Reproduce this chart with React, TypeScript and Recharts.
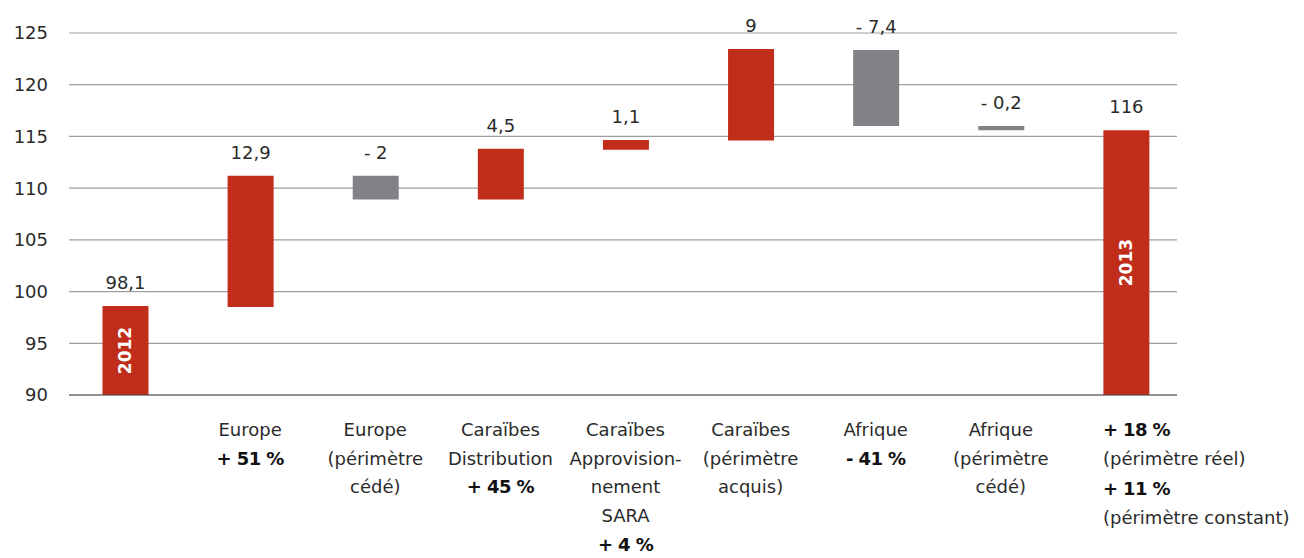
import { Bar, BarChart, CartesianGrid, Cell, LabelList, XAxis, YAxis } from "recharts";

const RED = "#c02d1b";
const GREY = "#818285";
const TEXT = "#2b2b2b";
const FONT = "'DejaVu Sans', sans-serif";

// one entry per bar
const categories = [
  "2012",
  "Europe",
  "Europe cédé",
  "Caraïbes Distribution",
  "Caraïbes SARA",
  "Caraïbes acquis",
  "Afrique",
  "Afrique cédé",
  "2013",
];
const barLow = [90, 98.5, 108.9, 108.9, 113.7, 114.6, 116.0, 115.6, 90];
const barHigh = [98.6, 111.2, 111.2, 113.8, 114.65, 123.45, 123.35, 116.0, 115.6];
const valueLabels = ["98,1", "12,9", "- 2", "4,5", "1,1", "9", "- 7,4", "- 0,2", "116"];
const barKinds = ["total", "up", "down", "up", "up", "up", "down", "down", "total"];
const yearLabels = ["2012", "", "", "", "", "", "", "", "2013"];
const yTicks = [90, 95, 100, 105, 110, 115, 120, 125];

// axis text under each bar: [text, bold]
const categoryLines: [string, boolean][][] = [
  [],
  [["Europe", false], ["+ 51 %", true]],
  [["Europe", false], ["(périmètre", false], ["cédé)", false]],
  [["Caraïbes", false], ["Distribution", false], ["+ 45 %", true]],
  [["Caraïbes", false], ["Approvision-", false], ["nement", false], ["SARA", false], ["+ 4 %", true]],
  [["Caraïbes", false], ["(périmètre", false], ["acquis)", false]],
  [["Afrique", false], ["- 41 %", true]],
  [["Afrique", false], ["(périmètre", false], ["cédé)", false]],
  [["+ 18 %", true], ["(périmètre réel)", false], ["+ 11 %", true], ["(périmètre constant)", false]],
];

const data = categories.map((name, i) => ({
  name,
  range: [barLow[i], barHigh[i]],
  label: valueLabels[i],
  kind: barKinds[i],
  year: yearLabels[i],
}));

const CategoryTick = (props: any) => {
  const { x, y, payload } = props;
  const lines = categoryLines[payload.index] || [];
  const last = payload.index === categoryLines.length - 1;
  return (
    <g>
      {lines.map(([t, bold], j) => (
        <text
          key={j}
          x={last ? x - 23 : x}
          y={y + 41 + j * 28.7 + (last && j >= 2 ? 2 : 0)}
          textAnchor={last ? "start" : "middle"}
          fill={bold ? "#111" : TEXT}
          fontWeight={bold ? 700 : 400}
          letterSpacing={bold ? -0.6 : 0}
          fontSize={18}
          fontFamily={FONT}
        >
          {t}
        </text>
      ))}
    </g>
  );
};

const YearLabel = (props: any) => {
  const { x, y, width, height, value } = props;
  if (!value) return null;
  const cx = x + width / 2;
  const cy = y + height / 2;
  return (
    <text
      x={cx}
      y={cy}
      transform={`rotate(-90 ${cx} ${cy})`}
      textAnchor="middle"
      dominantBaseline="central"
      fill="#fff"
      fontWeight={700}
      fontSize={17}
      fontFamily={FONT}
    >
      {value}
    </text>
  );
};

export default function App() {
  return (
    <div style={{ position: "absolute", left: 0, top: 0, fontFamily: FONT }}>
      <BarChart
        width={1304}
        height={558}
        data={data}
        margin={{ top: 33, right: 127, bottom: 0, left: 0 }}
        barSize={46}
      >
        <CartesianGrid vertical={false} stroke="#9f9f9f" strokeWidth={1.2} />
        <XAxis
          dataKey="name"
          height={163}
          tickLine={false}
          tickSize={0}
          tickMargin={0}
          axisLine={{ stroke: "#555", strokeWidth: 1.2 }}
          padding={{ left: -6.5, right: -11.5 }}
          tick={<CategoryTick />}
          interval={0}
        />
        <YAxis
          width={69}
          domain={[90, 125]}
          ticks={yTicks}
          axisLine={false}
          tickLine={false}
          tickSize={0}
          tickMargin={21}
          tick={{ fill: TEXT, fontSize: 18, fontFamily: FONT }}
          allowDataOverflow
        />
        <Bar dataKey="range" isAnimationActive={false}>
          {data.map((d, i) => (
            <Cell key={`cell-${i}`} fill={d.kind === "down" ? GREY : RED} />
          ))}
          <LabelList
            dataKey="label"
            position="top"
            offset={17}
            fill={TEXT}
            fontSize={18}
            fontFamily={FONT}
          />
          <LabelList dataKey="year" content={<YearLabel />} />
        </Bar>
      </BarChart>
    </div>
  );
}
